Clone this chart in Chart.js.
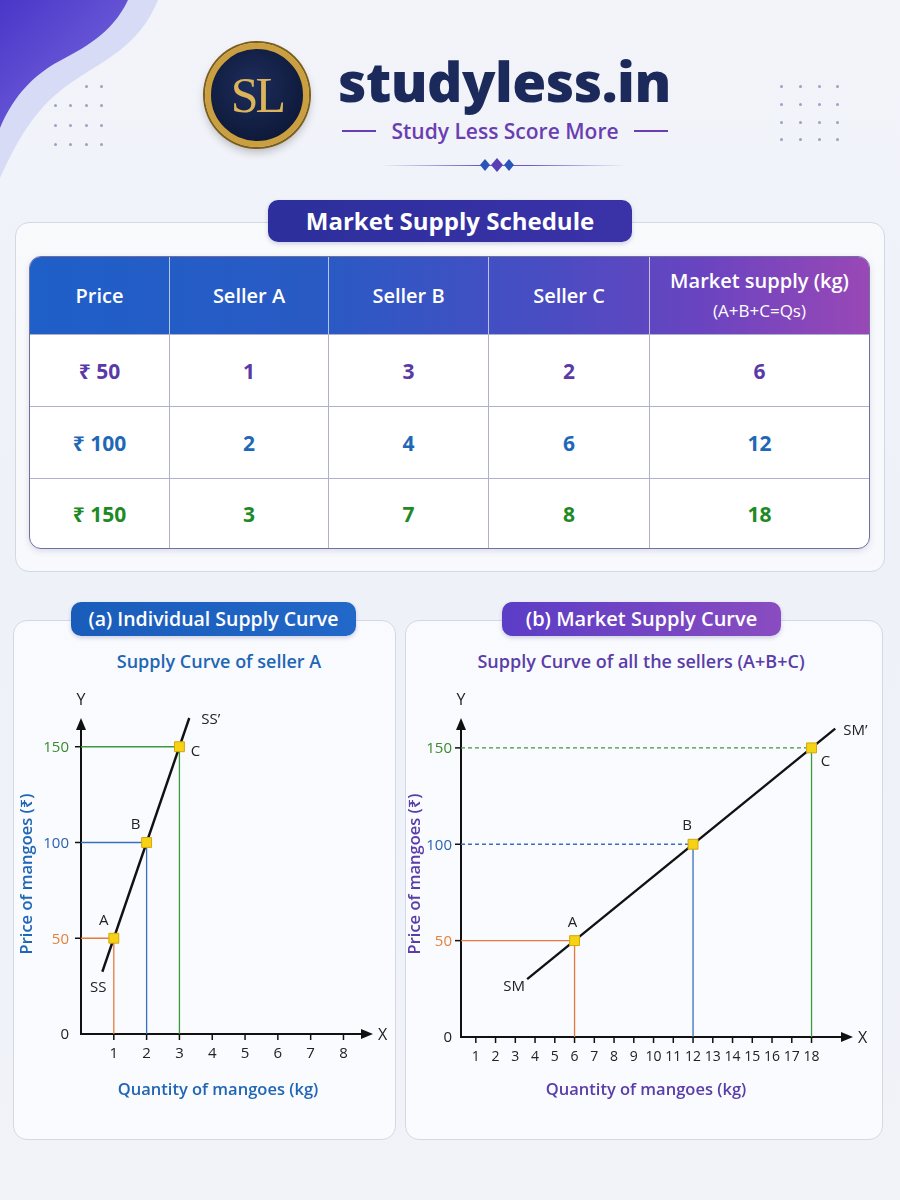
<!DOCTYPE html>
<html>
<head>
<meta charset="utf-8">
<script src="https://cdn.jsdelivr.net/npm/chart.js@4.4.1/dist/chart.umd.min.js"></script>
<style>
  html, body { margin: 0; padding: 0; }
  body {
    width: 900px; height: 1200px; position: relative; overflow: hidden;
    font-family: "Open Sans", "Noto Sans", "DejaVu Sans", sans-serif;
    background: linear-gradient(180deg, #f2f4fa 0%, #eef1f8 45%, #f1f3f9 100%);
  }
  .abs { position: absolute; }
  .logo {
    left: 205px; top: 43px; width: 92px; height: 92px; border-radius: 50%;
    background: radial-gradient(circle at 45% 40%, #1d2d5c 0%, #111d40 60%, #0b1430 100%);
    border: 6px solid #c99f3f;
    box-shadow: 0 0 0 2px #7c5d1c, 0 5px 10px rgba(0,0,0,0.25);
    text-align: center; line-height: 92px;
    font-family: "Liberation Serif", "DejaVu Serif", serif; font-size: 50px; color: #dcb55a;
    letter-spacing: -3px;
  }
  .brand { left: 338px; top: 46px; font-size: 55px; font-weight: 800; color: #1b2a5b; letter-spacing: -0.5px; line-height: 70px; }
  .tag { left: 0; width: 1010px; top: 116px; text-align: center; font-size: 21px; font-weight: 600; color: #6a3db0; line-height: 30px; }
  .hline { height: 2px; background: #6a3db0; }
  .dot { width: 3px; height: 3px; border-radius: 50%; background: #9aa3c4; }
  .card { background: rgba(255,255,255,0.55); border: 1px solid #d3d8e6; border-radius: 14px; }
  .pill { color: #fff; text-align: center; border-radius: 10px; font-weight: 600; box-shadow: 0 2px 4px rgba(40,40,120,0.2); }
  .sub { text-align: center; font-size: 18px; font-weight: 600; }
  #table {
    left: 29px; top: 256px; width: 841px; height: 293px; border-radius: 12px; overflow: hidden;
    border: 1px solid #6f6fa2; box-sizing: border-box; background: #fff;
    display: grid; grid-template-columns: 140px 159px 160px 161px 1fr; grid-template-rows: 77px 72px 72px 1fr;
    box-shadow: 0 2px 6px rgba(60,60,120,0.15);
  }
  .hd { color: #fff; font-size: 20px; font-weight: 600; display: flex; align-items: center; justify-content: center; flex-direction: column; border-right: 1px solid rgba(255,255,255,0.65); line-height: 28px; }
  .hd small { font-size: 17px; font-weight: 500; margin-top: 2px; }
  .td { font-size: 21px; font-weight: 700; display: flex; align-items: center; justify-content: center; border-right: 1px solid #aeb0d2; border-top: 1px solid #aeb0d2; }
</style>
</head>
<body>
<svg class="abs" style="left:0;top:0" width="240" height="200">
  <defs>
    <linearGradient id="w1" x1="0" y1="0" x2="1" y2="1">
      <stop offset="0" stop-color="#4a36c8"/>
      <stop offset="1" stop-color="#7d6de0"/>
    </linearGradient>
  </defs>
  <path d="M0 0 H158 C140 45 105 60 72 82 C40 104 22 130 0 178 Z" fill="#cfd3f4" opacity="0.75"/>
  <path d="M0 0 H128 C112 34 84 48 54 64 C28 80 12 100 0 128 Z" fill="url(#w1)"/>
</svg>
<div id="dotsL"></div>
<div id="dotsR"></div>

<div class="abs logo">SL</div>
<div class="abs brand">studyless.in</div>
<div class="abs hline" style="left:342px;top:130px;width:34px"></div>
<div class="abs hline" style="left:634px;top:130px;width:34px"></div>
<div class="abs tag">Study Less Score More</div>
<div class="abs" style="left:380px;top:165px;width:246px;height:1px;background:linear-gradient(90deg,rgba(90,80,180,0),#6a5ac0 40%,#6a5ac0 60%,rgba(90,80,180,0))"></div>
<svg class="abs" style="left:478px;top:157px" width="40" height="16">
  <path d="M7 2 L12 8 L7 14 L2 8 Z" fill="#2b54b8"/>
  <path d="M19 1 L25 8 L19 15 L13 8 Z" fill="#5b3db5"/>
  <path d="M31 2 L36 8 L31 14 L26 8 Z" fill="#2b54b8"/>
</svg>

<div class="abs card" style="left:15px;top:222px;width:868px;height:348px"></div>
<div class="abs pill" style="left:268px;top:200px;width:364px;height:42px;line-height:42px;font-size:24px;font-weight:700;background:linear-gradient(90deg,#2c2f9c,#3b32a8)">Market Supply Schedule</div>
<div id="table" class="abs"></div>

<div class="abs card" style="left:13px;top:620px;width:381px;height:518px;background:rgba(251,252,255,0.8)"></div>
<div class="abs card" style="left:405px;top:620px;width:476px;height:518px;background:rgba(251,252,255,0.8)"></div>
<div class="abs pill" style="left:71px;top:602px;width:285px;height:34px;line-height:34px;font-size:19.5px;background:linear-gradient(90deg,#1a5cba,#2268c8)">(a) Individual Supply Curve</div>
<div class="abs pill" style="left:502px;top:602px;width:279px;height:34px;line-height:34px;font-size:20px;background:linear-gradient(90deg,#5b3dc6,#8a4cc0)">(b) Market Supply Curve</div>
<div class="abs sub" style="left:13px;width:412px;top:649px;color:#2166b5">Supply Curve of seller A</div>
<div class="abs sub" style="left:405px;width:472px;top:649px;color:#5a3da8">Supply Curve of all the sellers (A+B+C)</div>

<canvas id="chartA" class="abs" style="left:13px;top:640px" width="382" height="480"></canvas>
<canvas id="chartM" class="abs" style="left:405px;top:640px" width="477" height="480"></canvas>

<script>
// schedule data
const prices = [50, 100, 150];
const sellerA = [1, 2, 3];
const sellerB = [3, 4, 7];
const sellerC = [2, 6, 8];
const marketSupply = [6, 12, 18];
const pointNames = ['A', 'B', 'C'];

// axis ticks
const priceTicks = [0, 50, 100, 150];
const qtyTicksA = [1, 2, 3, 4, 5, 6, 7, 8];
const qtyTicksM = [1, 2, 3, 4, 5, 6, 7, 8, 9, 10, 11, 12, 13, 14, 15, 16, 17, 18];

// ends of the drawn supply lines
const ssEnds = [[0.65, 32.5], [3.3, 165]];
const smEnds = [[3.6, 30], [19.2, 160]];

const rowColors = ['#5a3aa8', '#1f68b8', '#1e8a26'];
const guideColors = ['#e8793a', '#3a6fbf', '#3c9a3c'];
const tickColors = ['#222', '#e8803a', '#2a62b0', '#3a8a2e'];

// dots decoration
function dots(id, xs, ys, skip) {
  const el = document.getElementById(id);
  ys.forEach((y, r) => xs.forEach((x, c) => {
    if (skip && skip(r, c)) return;
    const d = document.createElement('div');
    d.className = 'abs dot';
    d.style.left = x + 'px'; d.style.top = y + 'px';
    el.appendChild(d);
  }));
}
dots('dotsL', [54, 69, 85, 100], [85, 104, 124, 143], (r, c) => r === 0 && c < 2);
dots('dotsR', [780, 799, 818, 836], [85, 103, 121, 138]);

// table
(function buildTable() {
  const t = document.getElementById('table');
  const heads = ['Price', 'Seller A', 'Seller B', 'Seller C', 'Market supply (kg)<small>(A+B+C=Qs)</small>'];
  const grad = 'linear-gradient(90deg,#1f5fc8 0%,#2a5ac4 35%,#4a4cc2 62%,#6a44c0 80%,#9a48b6 100%)';
  heads.forEach((h, i) => {
    const d = document.createElement('div');
    d.className = 'hd';
    d.innerHTML = h;
    d.style.background = grad;
    d.style.backgroundSize = '841px 100%';
    d.style.backgroundPosition = -[0, 140, 299, 459, 620][i] + 'px 0';
    if (i === 4) d.style.borderRight = 'none';
    t.appendChild(d);
  });
  prices.forEach((p, r) => {
    const cells = ['₹ ' + p, sellerA[r], sellerB[r], sellerC[r], marketSupply[r]];
    cells.forEach((v, i) => {
      const d = document.createElement('div');
      d.className = 'td';
      d.textContent = v;
      d.style.color = rowColors[r];
      if (i === 4) d.style.borderRight = 'none';
      t.appendChild(d);
    });
  });
})();

function axesPlugin(o) {
  return {
    id: 'econAxes',
    beforeDatasetsDraw(chart) {
      const { ctx, chartArea: a, scales: { x, y } } = chart;
      const ox = a.left, oy = y.getPixelForValue(0);
      ctx.save();
      ctx.strokeStyle = '#111'; ctx.fillStyle = '#111';
      ctx.lineWidth = 2;
      ctx.beginPath(); ctx.moveTo(ox, oy + 1); ctx.lineTo(ox, a.top + 8); ctx.stroke();
      ctx.beginPath(); ctx.moveTo(ox, a.top); ctx.lineTo(ox - 5, a.top + 12); ctx.lineTo(ox + 5, a.top + 12); ctx.closePath(); ctx.fill();
      ctx.beginPath(); ctx.moveTo(ox - 1, oy); ctx.lineTo(a.right - 8, oy); ctx.stroke();
      ctx.beginPath(); ctx.moveTo(a.right, oy); ctx.lineTo(a.right - 12, oy - 5); ctx.lineTo(a.right - 12, oy + 5); ctx.closePath(); ctx.fill();
      ctx.lineWidth = 1.5;
      o.xTicks.forEach(v => {
        const px = x.getPixelForValue(v);
        ctx.beginPath(); ctx.moveTo(px, oy); ctx.lineTo(px, oy + 6); ctx.stroke();
      });
      priceTicks.forEach(v => {
        if (v === 0) return;
        const py = y.getPixelForValue(v);
        ctx.beginPath(); ctx.moveTo(ox - 6, py); ctx.lineTo(ox, py); ctx.stroke();
      });
      ctx.restore();
    },
    afterDraw(chart) {
      const { ctx, chartArea: a, scales: { x, y } } = chart;
      const ox = a.left, oy = y.getPixelForValue(0);
      ctx.save();
      const font = '"Open Sans", "Noto Sans", sans-serif';
      // tick labels
      ctx.textBaseline = 'middle';
      ctx.textAlign = 'right';
      ctx.font = '15px ' + font;
      priceTicks.forEach((v, i) => {
        ctx.fillStyle = tickColors[i];
        ctx.fillText(String(v), ox - o.yLabGap, y.getPixelForValue(v) + 1);
      });
      ctx.textAlign = 'center';
      ctx.fillStyle = '#222';
      ctx.font = o.xTickFont + 'px ' + font;
      o.xTicks.forEach(v => ctx.fillText(String(v), x.getPixelForValue(v), oy + 20));
      // axis letters
      ctx.font = '16px ' + font;
      ctx.fillText('Y', ox, a.top - 18);
      ctx.textAlign = 'left';
      ctx.fillText('X', a.right + 5, oy + 1);
      // point labels
      ctx.font = '15px ' + font;
      ctx.textAlign = 'center';
      o.qty.forEach((q, i) => {
        const off = o.labelOff[i];
        ctx.fillText(pointNames[i], x.getPixelForValue(q) + off[0], y.getPixelForValue(prices[i]) + off[1]);
      });
      // curve names
      const e0 = o.curve[0], e1 = o.curve[1];
      ctx.fillText(o.curveName, x.getPixelForValue(e0[0]) + o.nameOff[0][0], y.getPixelForValue(e0[1]) + o.nameOff[0][1]);
      ctx.textAlign = 'left';
      ctx.fillText(o.curveName + '\u2019', x.getPixelForValue(e1[0]) + o.nameOff[1][0], y.getPixelForValue(e1[1]) + o.nameOff[1][1]);
      // axis titles
      ctx.fillStyle = o.titleColor;
      ctx.font = '600 16.5px ' + font;
      ctx.textAlign = 'center';
      ctx.fillText('Quantity of mangoes (kg)', o.xTitle[0], o.xTitle[1]);
      ctx.translate(o.yTitle[0], o.yTitle[1]);
      ctx.rotate(-Math.PI / 2);
      ctx.fillText('Price of mangoes (\u20b9)', 0, 0);
      ctx.restore();
    }
  };
}

function supplyChart(id, o) {
  const guides = [];
  o.qty.forEach((q, i) => {
    guides.push({
      data: [{ x: o.xMin, y: prices[i] }, { x: q, y: prices[i] }],
      showLine: true, borderColor: guideColors[i], borderWidth: 1.3,
      borderDash: o.dashed[i] ? [4, 3] : [], pointRadius: 0, clip: false
    });
    guides.push({
      data: [{ x: q, y: prices[i] }, { x: q, y: 0 }],
      showLine: true, borderColor: guideColors[i], borderWidth: 1.3, pointRadius: 0, clip: false
    });
  });
  new Chart(document.getElementById(id), {
    type: 'scatter',
    data: {
      datasets: [
        {
          data: o.qty.map((q, i) => ({ x: q, y: prices[i] })),
          pointStyle: 'rect', pointRadius: 7, pointHoverRadius: 7,
          backgroundColor: '#f5d214', borderColor: '#d6a60c', borderWidth: 1, clip: false
        },
        {
          data: o.curve.map(p => ({ x: p[0], y: p[1] })),
          showLine: true, borderColor: '#111', borderWidth: 2.4, pointRadius: 0, clip: false
        },
        ...guides
      ]
    },
    options: {
      responsive: false, animation: false, events: [],
      layout: { padding: o.pad },
      plugins: { legend: { display: false }, tooltip: { enabled: false } },
      scales: {
        x: { type: 'linear', min: o.xMin, max: o.xMax, display: false },
        y: { type: 'linear', min: 0, max: o.yMax, display: false }
      }
    },
    plugins: [axesPlugin(o)]
  });
}

supplyChart('chartA', {
  qty: sellerA, curve: ssEnds, curveName: 'SS', xTicks: qtyTicksA,
  xMin: 0, xMax: 8.9, yMax: 165,
  pad: { left: 68, right: 22, top: 78, bottom: 86 },
  dashed: [false, false, false],
  labelOff: [[-10, -18], [-11, -18], [16, 5]],
  nameOff: [[-4, 16], [12, 2]],
  yLabGap: 12, xTickFont: 15,
  titleColor: '#2166b5', xTitle: [205, 450], yTitle: [14, 234]
});

supplyChart('chartM', {
  qty: marketSupply, curve: smEnds, curveName: 'SM', xTicks: qtyTicksM,
  xMin: 0.25, xMax: 20.1, yMax: 165.5,
  pad: { left: 56, right: 29, top: 78, bottom: 83 },
  dashed: [false, true, true],
  labelOff: [[-2, -18], [-6, -19], [14, 14]],
  nameOff: [[-13, 8], [8, 2]],
  yLabGap: 9, xTickFont: 14,
  titleColor: '#5a3da8', xTitle: [241, 450], yTitle: [10, 234]
});
</script>
</body>
</html>
